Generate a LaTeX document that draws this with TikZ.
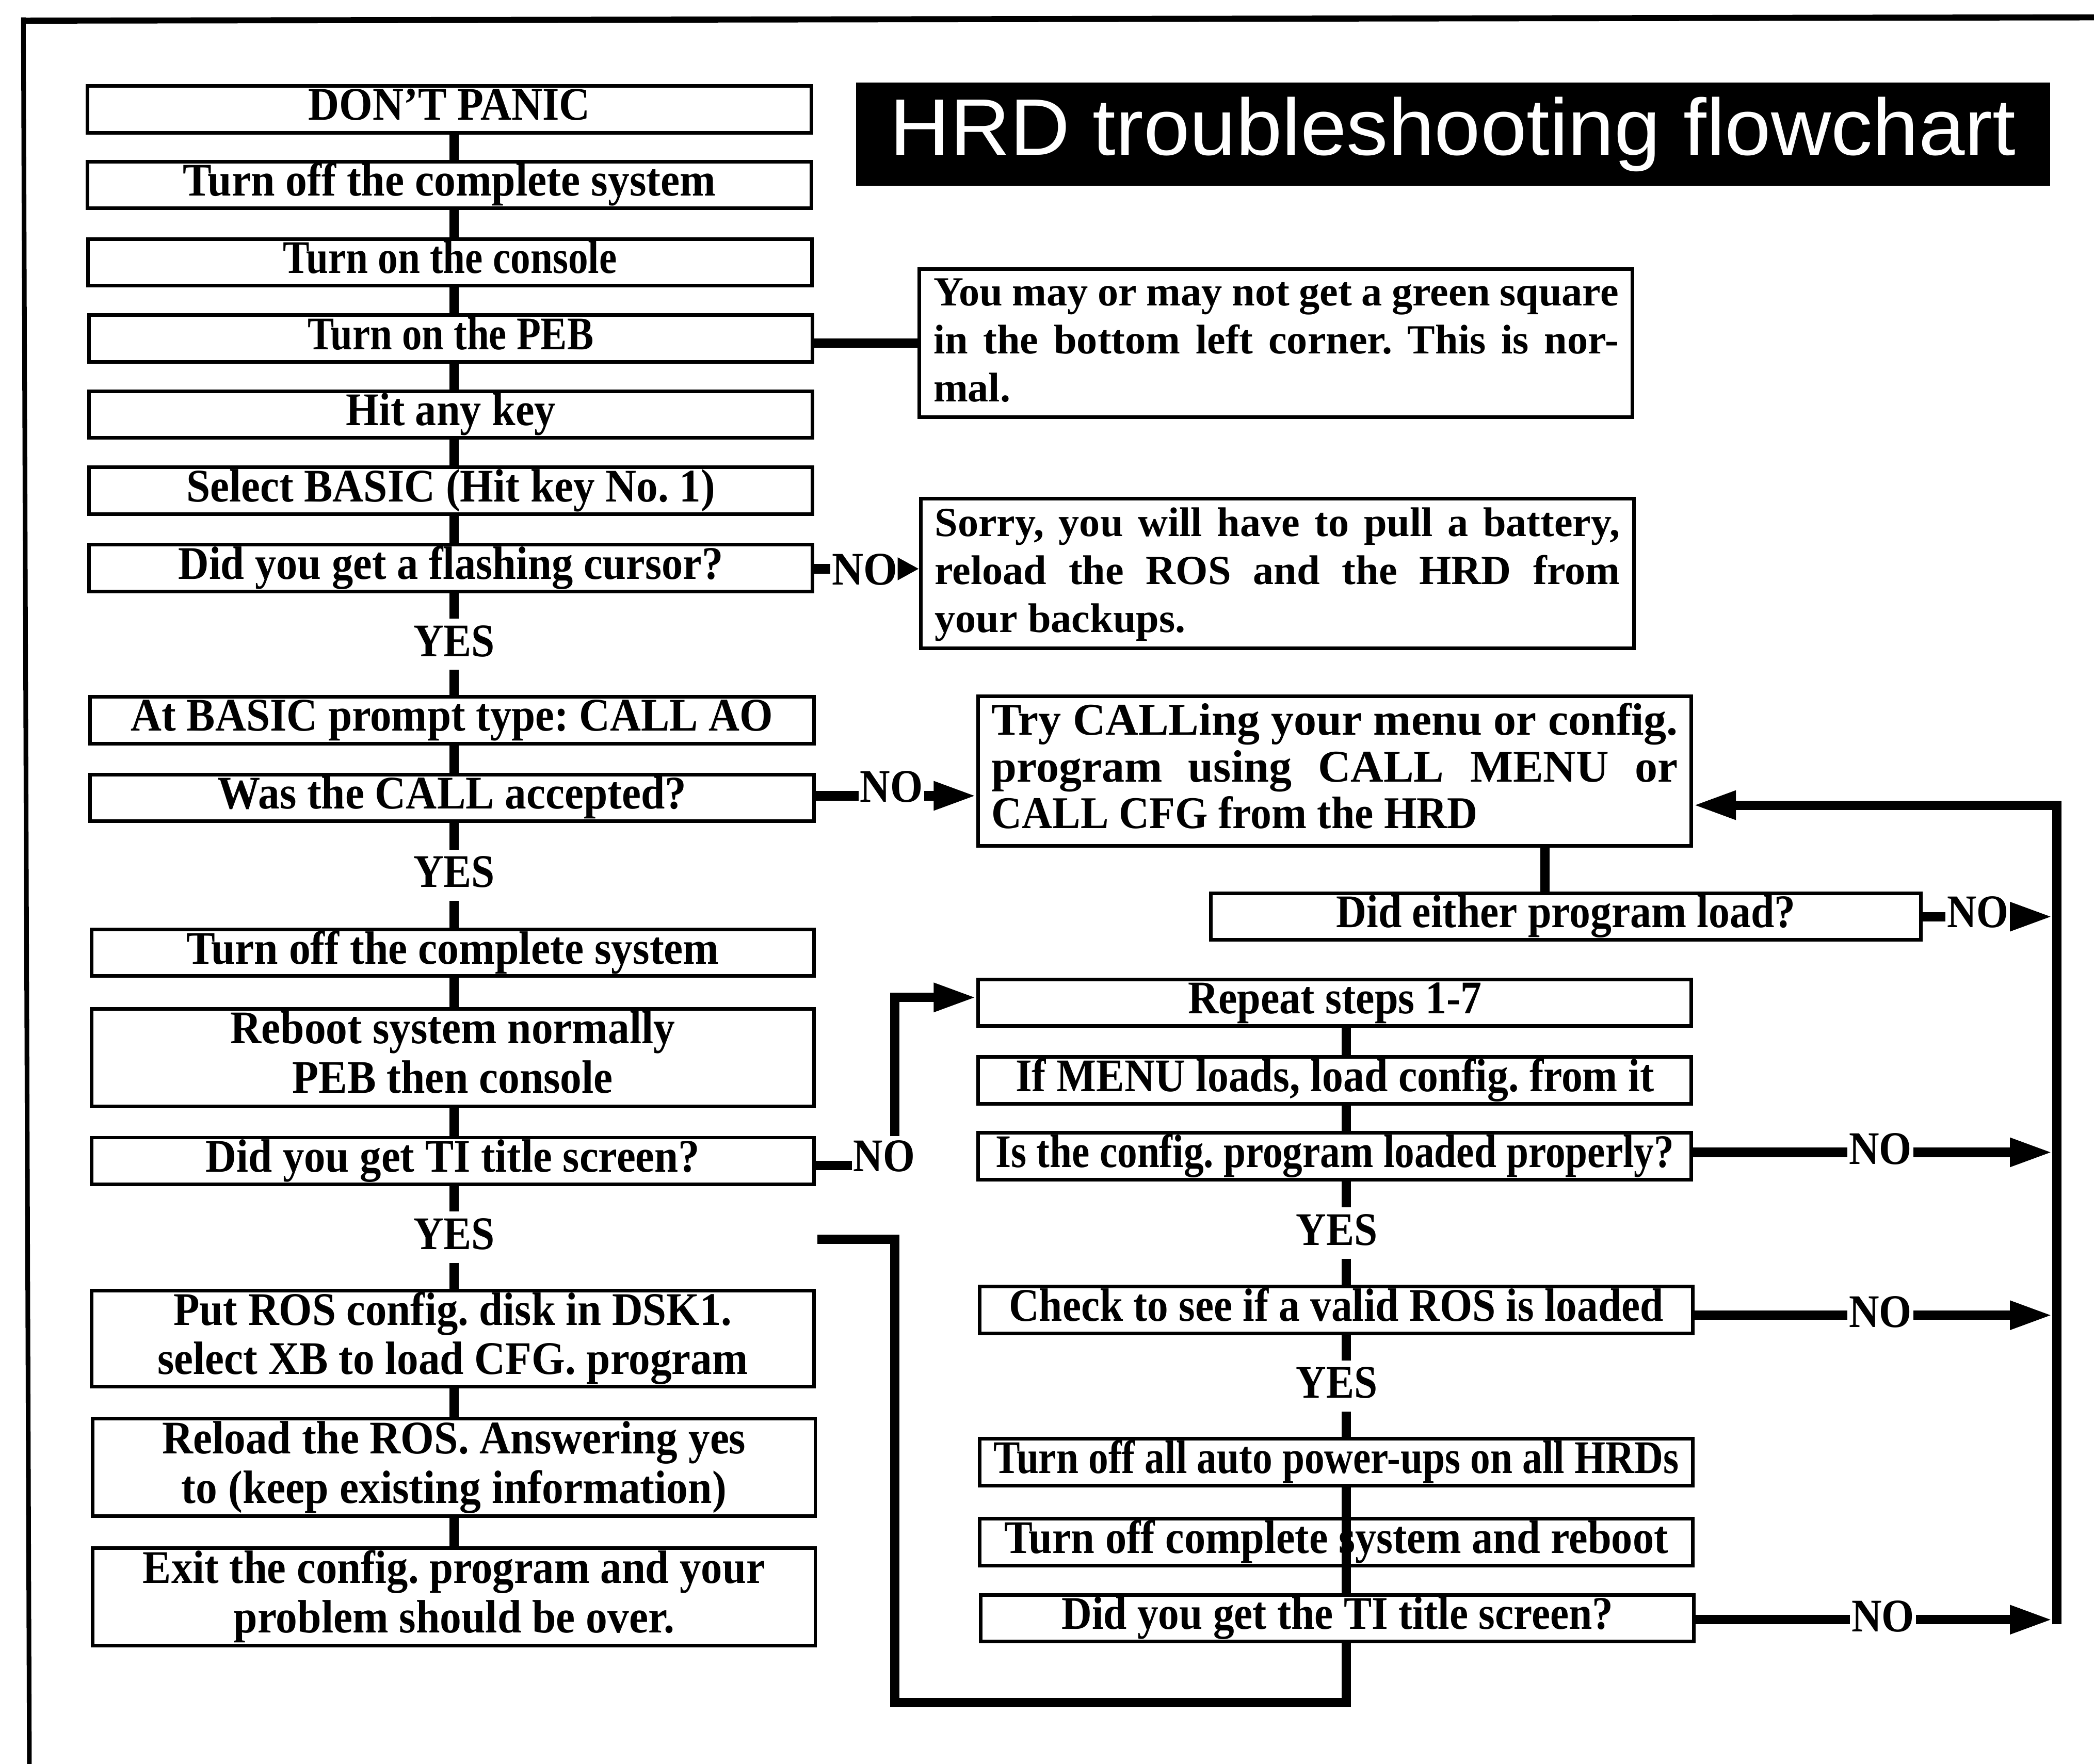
\documentclass[tikz,border=0pt]{standalone}
\usepackage{graphicx}
\usepackage{fontspec}
\setmainfont{Liberation Serif}
\newfontfamily\titlefont{Liberation Sans}
\usetikzlibrary{arrows.meta}
\frenchspacing
\newcommand{\mystrut}{\rule[-8pt]{0pt}{32pt}}
\newcommand{\fitw}[2]{\resizebox{#1}{\height}{\mystrut#2}}
\newcommand{\jline}[2]{\makebox[#1][s]{\mystrut#2}}
\begin{document}
\begin{tikzpicture}[x=1pt,y=-1pt,
  box/.style={draw, line width=2.7pt, inner sep=0pt, align=center, font=\bfseries\fontsize{35}{37}\selectfont},
  note/.style={draw, line width=2.7pt, inner sep=0pt, align=left, font=\bfseries\fontsize{31}{36}\selectfont},
  cnote/.style={draw, line width=2.7pt, inner sep=0pt, align=left, font=\bfseries\fontsize{34}{35}\selectfont},
  lab/.style={inner xsep=1pt, inner ysep=0pt, text height=24pt, text depth=0pt, font=\bfseries\fontsize{35}{37}\selectfont},
  ylab/.style={inner xsep=1pt, inner ysep=0pt, text height=28pt, text depth=10pt, anchor=base, font=\bfseries\fontsize{35}{37}\selectfont},
  conn/.style={line width=7pt},
  arr/.style={line width=7pt, -{Triangle[length=32pt,width=20pt]}},
  sarr/.style={line width=7pt, -{Triangle[length=16pt,width=16pt]}},
]
\useasboundingbox (0,0) rectangle (1568,1321);

% frame
\coordinate (fa) at (16,15.5);
\coordinate (fb) at (1568,13);
\coordinate (fc) at (17.5,13);
\coordinate (fd) at (22,1321);
\draw[line width=4.5pt] (fa) -- (fb);
\draw[line width=3.5pt] (fc) -- (fd);

% title
\node[fill=black, minimum width=894pt, minimum height=77pt, inner sep=0pt, text=white,
      font=\titlefont\fontsize{60}{60}\selectfont] (title) at (1088,100.5)
      {\fitw{843pt}{HRD troubleshooting flowchart}};

% left column
\node[box, minimum width=542pt, minimum height=35pt] (n1) at (336.5,82) {\fitw{211pt}{DON'T PANIC}};
\node[box, minimum width=542pt, minimum height=35pt] (n2) at (336.5,138.5) {\fitw{399pt}{Turn off the complete system}};
\node[box, minimum width=542pt, minimum height=35pt] (n3) at (337,196.5) {\fitw{250pt}{Turn on the console}};
\node[box, minimum width=542pt, minimum height=35pt] (n4) at (337.5,253.5) {\fitw{214pt}{Turn on the PEB}};
\node[box, minimum width=542pt, minimum height=35pt] (n5) at (337.5,310.5) {\fitw{157pt}{Hit any key}};
\node[box, minimum width=542pt, minimum height=35pt] (n6) at (337.5,367.5) {\fitw{396pt}{Select BASIC (Hit key No. 1)}};
\node[box, minimum width=542pt, minimum height=35pt] (n7) at (337.5,425.5) {\fitw{408pt}{Did you get a flashing cursor?}};
\node[ylab] (y1) at (340,491.5) {\fitw{61pt}{YES}};
\node[box, minimum width=542pt, minimum height=35pt] (n8) at (338.5,539.5) {\fitw{481pt}{At BASIC prompt type: CALL AO}};
\node[box, minimum width=542pt, minimum height=35pt] (n9) at (338.5,597.5) {\fitw{351pt}{Was the CALL accepted?}};
\node[ylab] (y2) at (340,664.5) {\fitw{61pt}{YES}};
\node[box, minimum width=541pt, minimum height=35pt] (n10) at (339,713.5) {\fitw{399pt}{Turn off the complete system}};
\node[box, minimum width=541pt, minimum height=73pt] (n11) at (339,792) {\fitw{333pt}{Reboot system normally}\\\fitw{240pt}{PEB then console}};
\node[box, minimum width=541pt, minimum height=35pt] (n12) at (339,869.5) {\fitw{370pt}{Did you get TI title screen?}};
\node[ylab] (y3) at (340,935.5) {\fitw{61pt}{YES}};
\node[box, minimum width=541pt, minimum height=72pt] (n13) at (339,1002.5) {\fitw{418pt}{Put ROS config. disk in DSK1.}\\\fitw{442pt}{select XB to load CFG. program}};
\node[box, minimum width=541pt, minimum height=73pt] (n14) at (340,1099) {\fitw{437pt}{Reload the ROS. Answering yes}\\\fitw{408pt}{to (keep existing information)}};
\node[box, minimum width=541pt, minimum height=73pt] (n15) at (340,1196) {\fitw{466pt}{Exit the config. program and your}\\\fitw{330pt}{problem should be over.}};

% right column
\node[note, minimum width=534pt, minimum height=111pt] (A) at (955.5,257)
  {\jline{513pt}{You may or may not get a green square}\\\jline{513pt}{in the bottom left corner. This is nor-}\\\mystrut mal.};
\node[note, minimum width=534pt, minimum height=112pt] (B) at (956.5,429.5)
  {\jline{513pt}{Sorry, you will have to pull a battery,}\\\jline{513pt}{reload the ROS and the HRD from}\\\mystrut your backups.};
\node[cnote, minimum width=534pt, minimum height=112pt] (C) at (999.5,577.5)
  {\jline{514pt}{Try CALLing your menu or config.}\\\jline{514pt}{program using CALL MENU or}\\\fitw{364pt}{CALL CFG from the HRD}};
\node[box, minimum width=532pt, minimum height=35pt] (D) at (1172.5,686.5) {\fitw{344pt}{Did either program load?}};
\node[box, minimum width=534pt, minimum height=35pt] (E) at (999.5,751) {\fitw{220pt}{Repeat steps 1-7}};
\node[box, minimum width=534pt, minimum height=35pt] (F) at (999.5,809) {\fitw{478pt}{If MENU loads, load config. from it}};
\node[box, minimum width=534pt, minimum height=35pt] (G) at (999.5,866) {\fitw{508pt}{Is the config. program loaded properly?}};
\node[ylab] (yG) at (1001,932.5) {\fitw{61pt}{YES}};
\node[box, minimum width=534pt, minimum height=35pt] (H) at (1000.5,981) {\fitw{490pt}{Check to see if a valid ROS is loaded}};
\node[ylab] (yH) at (1001,1047) {\fitw{61pt}{YES}};
\node[box, minimum width=534pt, minimum height=35pt] (I) at (1000.5,1095) {\fitw{513pt}{Turn off all auto power-ups on all HRDs}};
\node[box, minimum width=534pt, minimum height=35pt] (J) at (1000.5,1155) {\fitw{497pt}{Turn off complete system and reboot}};
\node[box, minimum width=534pt, minimum height=35pt] (K) at (1001.5,1212) {\fitw{413pt}{Did you get the TI title screen?}};

% NO labels
\node[lab] (no7) at (647.5,426) {\fitw{49pt}{NO}};
\node[lab] (no9) at (667.5,588.5) {\fitw{47pt}{NO}};
\node[lab] (noD) at (1481,682.6) {\fitw{46pt}{NO}};
\node[lab] (no12) at (662,865.5) {\fitw{46pt}{NO}};
\node[lab] (noG) at (1408,860) {\fitw{47pt}{NO}};
\node[lab] (noH) at (1408,982) {\fitw{47pt}{NO}};
\node[lab] (noK) at (1410,1210) {\fitw{47pt}{NO}};

% helper coordinates
\coordinate (vx) at (340,0);
\coordinate (rx) at (1008,0);
\coordinate (cx) at (1157,0);
\coordinate (xr) at (1537,0);
\coordinate (la) at (0,257);
\coordinate (l9) at (0,596);
\coordinate (lD) at (0,686.5);
\coordinate (l12) at (0,873);
\coordinate (lG) at (0,863);
\coordinate (lH) at (0,985);
\coordinate (lK) at (0,1213);
\coordinate (j12) at (670,851);
\coordinate (j12b) at (670,747);
\coordinate (lb) at (670,1275);
\coordinate (lt) at (670,928);
\coordinate (lend) at (612,928);
\coordinate (vrt) at (1540,603);
\coordinate (vrb) at (1540,1216.5);

% left chain
\draw[conn] (n1.south -| vx) -- (n2.north -| vx);
\draw[conn] (n2.south -| vx) -- (n3.north -| vx);
\draw[conn] (n3.south -| vx) -- (n4.north -| vx);
\draw[conn] (n4.south -| vx) -- (n5.north -| vx);
\draw[conn] (n5.south -| vx) -- (n6.north -| vx);
\draw[conn] (n6.south -| vx) -- (n7.north -| vx);
\draw[conn] (n7.south -| vx) -- (y1.north -| vx);
\draw[conn] (y1.south -| vx) -- (n8.north -| vx);
\draw[conn] (n8.south -| vx) -- (n9.north -| vx);
\draw[conn] (n9.south -| vx) -- (y2.north -| vx);
\draw[conn] (y2.south -| vx) -- (n10.north -| vx);
\draw[conn] (n10.south -| vx) -- (n11.north -| vx);
\draw[conn] (n11.south -| vx) -- (n12.north -| vx);
\draw[conn] (n12.south -| vx) -- (y3.north -| vx);
\draw[conn] (y3.south -| vx) -- (n13.north -| vx);
\draw[conn] (n13.south -| vx) -- (n14.north -| vx);
\draw[conn] (n14.south -| vx) -- (n15.north -| vx);

% side connectors
\draw[conn] (n4.east |- la) -- (A.west |- la);
\draw[conn] (n7.east |- no7) -- (no7.west);
\draw[sarr] (no7.east) -- (B.west |- no7);
\draw[conn] (n9.east |- l9) -- (no9.west |- l9);
\draw[arr] (no9.east |- l9) -- (C.west |- l9);
\draw[conn] (C.south -| cx) -- (D.north -| cx);
\draw[conn] (D.east |- lD) -- (noD.west |- lD);
\draw[arr] (noD.east |- lD) -- (xr |- lD);
\draw[conn] (n12.east |- l12) -- (no12.west |- l12);
\draw[arr, line join=miter] (j12) -- (j12b) -- (E.west |- j12b);

% right chain
\draw[conn] (E.south -| rx) -- (F.north -| rx);
\draw[conn] (F.south -| rx) -- (G.north -| rx);
\draw[conn] (G.south -| rx) -- (yG.north -| rx);
\draw[conn] (yG.south -| rx) -- (H.north -| rx);
\draw[conn] (H.south -| rx) -- (yH.north -| rx);
\draw[conn] (yH.south -| rx) -- (I.north -| rx);
\draw[conn] (I.south -| rx) -- (K.north -| rx);
\draw[conn, line join=miter] (K.south -| rx) -- (rx |- lb) -- (lb) -- (lt) -- (lend);

\draw[conn] (G.east |- lG) -- (noG.west |- lG);
\draw[arr] (noG.east |- lG) -- (xr |- lG);
\draw[conn] (H.east |- lH) -- (noH.west |- lH);
\draw[arr] (noH.east |- lH) -- (xr |- lH);
\draw[conn] (K.east |- lK) -- (noK.west |- lK);
\draw[arr] (noK.east |- lK) -- (xr |- lK);

\draw[arr, line join=miter] (vrb) -- (vrt) -- (C.east |- vrt);
\end{tikzpicture}
\end{document}
